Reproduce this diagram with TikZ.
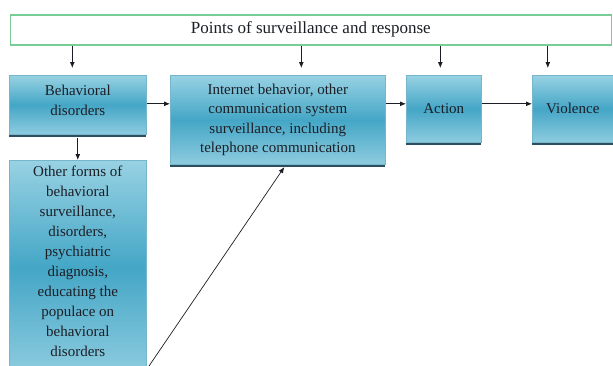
\documentclass[tikz,border=0pt]{standalone}
\usepackage{fontspec}
\setmainfont{Liberation Serif}
\usetikzlibrary{arrows.meta,shadows}

\definecolor{boxtop}{RGB}{152,210,227}
\definecolor{boxmid}{RGB}{68,166,198}
\definecolor{boxbot}{RGB}{142,204,223}
\definecolor{boxedge}{RGB}{118,182,204}
\definecolor{boxshadow}{RGB}{44,78,94}
\definecolor{headedge}{RGB}{120,205,150}
\definecolor{ink}{RGB}{28,30,38}

\tikzset{
  flowbox/.style={rectangle, draw=boxedge, line width=0.6pt,
    top color=boxtop, bottom color=boxbot, middle color=boxmid,
    drop shadow={shadow xshift=-0.5pt, shadow yshift=-3pt, fill=boxshadow, opacity=1},
    text=ink, align=center, inner sep=2pt,
    font=\fontsize{15}{19.5}\selectfont},
  headbox/.style={rectangle, draw=headedge, line width=1.6pt, fill=white,
    text=ink, font=\fontsize{17}{20}\selectfont, inner sep=0pt},
  flowarrow/.style={draw=ink, line width=0.8pt, -{Latex[length=6pt,width=5pt]}},
  boxlabel/.style={text=ink, align=center, inner sep=0pt,
    font=\fontsize{15}{20}\selectfont}
}

\begin{document}
\begin{tikzpicture}[x=1pt,y=1pt]
  \useasboundingbox (0,0) rectangle (613,-365);

  % heading bar
  \node[headbox, anchor=north west, minimum width=601, minimum height=30]
    (head) at (9.5,-14) {\raisebox{-1pt}{Points of surveillance and response}};

  % main chain of boxes
  \node[flowbox, anchor=north west, minimum width=137, minimum height=59]
    (beh) at (9,-75) {Behavioral\\disorders\\[-10pt]};
  \node[flowbox, anchor=north west, minimum width=215, minimum height=89]
    (net) at (170,-75) {Internet behavior, other\\communication system\\surveillance, including\\telephone communication};
  \node[flowbox, anchor=north west, minimum width=75, minimum height=67]
    (act) at (406,-75) {\raisebox{-3pt}{Action}};
  \node[flowbox, anchor=north west, minimum width=81, minimum height=67]
    (vio) at (532,-75) {\raisebox{-3pt}{Violence}};

  % tall box under the first one, running past the lower edge
  \node[flowbox, anchor=north west, minimum width=137, minimum height=215]
    (other) at (9,-160) {};
  \node[boxlabel, anchor=north] (othertext) at ([yshift=-6pt]other.north)
    {Other forms of\\behavioral\\surveillance,\\disorders,\\psychiatric\\diagnosis,\\educating the\\populace on\\behavioral\\disorders};

  % arrows from the heading
  \draw[flowarrow, shorten >=7pt] ([xshift=-5.5pt]beh.north |- head.south) -- ([xshift=-5.5pt]beh.north);
  \draw[flowarrow, shorten >=7pt] ([xshift=23.5pt]net.north |- head.south) -- ([xshift=23.5pt]net.north);
  \draw[flowarrow, shorten >=7pt] ([xshift=-3.5pt]act.north |- head.south) -- ([xshift=-3.5pt]act.north);
  \draw[flowarrow, shorten >=7pt] ([xshift=-25pt]vio.north |- head.south) -- ([xshift=-25pt]vio.north);

  % arrows along the chain
  \draw[flowarrow] ([yshift=1pt]beh.east) -- ([yshift=1pt]beh.east -| net.west);
  \draw[flowarrow] ([yshift=1pt]beh.east -| net.east) -- ([yshift=1pt]beh.east -| act.west);
  \draw[flowarrow] ([yshift=1pt]beh.east -| act.east) -- ([yshift=1pt]beh.east -| vio.west);

  % down to the tall box
  \draw[flowarrow] (beh.south) ++(0,-3) coordinate (behfoot) (behfoot) -- (other.north);

  % long diagonal into the communication box
  \coordinate (diagfoot) at (149,-366);
  \draw[flowarrow, line width=0.7pt] (diagfoot) -- ([xshift=6.5pt,yshift=-2.5pt]net.south);
\end{tikzpicture}
\end{document}
